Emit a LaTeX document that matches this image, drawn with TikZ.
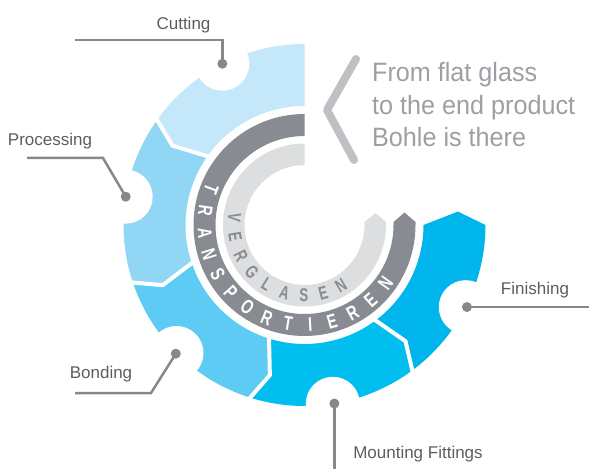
\documentclass[tikz,border=0pt]{standalone}
\usepackage{fontspec}
\setmainfont{Liberation Sans}
\newfontfamily\ringfont[FakeStretch=0.72]{Liberation Sans}
\newfontfamily\claimfont[FakeStretch=0.95]{Liberation Sans}
\definecolor{cCut}{HTML}{C4E7F9}
\definecolor{cProc}{HTML}{92D6F5}
\definecolor{cBond}{HTML}{5ECBF4}
\definecolor{cMount}{HTML}{00BFEF}
\definecolor{cFin}{HTML}{00B5EB}
\definecolor{cDark}{HTML}{888B91}
\definecolor{cLight}{HTML}{DCDEE0}
\definecolor{cChev}{HTML}{BEC0C3}
\definecolor{cTxt}{HTML}{9C9FA3}
\definecolor{cLbl}{HTML}{5A5D62}
\definecolor{cLine}{HTML}{85888D}
\begin{document}
\begin{tikzpicture}[x=1pt,y=1pt,
  gapline/.style={draw=white,line width=4pt},
  dotnode/.style={circle,fill=cLine,inner sep=0pt,minimum size=10pt},
  leaderline/.style={draw=cLine,line width=2.5pt},
  lbl/.style={font=\fontsize{17}{20}\selectfont,text=cLbl,inner sep=0pt,anchor=base},
  maintext/.style={font=\claimfont\fontsize{26.5}{32}\selectfont,text=cTxt,inner sep=0pt,anchor=base west},
  chevline/.style={draw=cChev,line width=8pt,line cap=round,line join=round},
  ringlet/.style={font=\ringfont\bfseries\fontsize{20}{20}\selectfont,text=white,inner sep=0pt},
  innerlet/.style={font=\ringfont\bfseries\fontsize{18.5}{18.5}\selectfont,text=cDark,inner sep=0pt}]
\useasboundingbox (0,0) rectangle (589,469);
\coordinate (C) at (304.5,244);
\begin{scope}[shift={(C)}]
  % gear segments
  \fill[cCut] (90:181pt) arc[start angle=90,end angle=144,radius=181pt] -- (149:154pt) -- (144:119pt) arc[start angle=144,end angle=90,radius=119pt] -- cycle;
  \foreach \a/\c in {144/cProc,198/cBond,252/cMount,306/cFin} {
    \pgfmathsetmacro\b{\a+54}
    \fill[\c] (\a:181pt) arc[start angle=\a,end angle=\b,radius=181pt] -- (\b+5:154pt) -- (\b:119pt) arc[start angle=\b,end angle=\a,radius=119pt] -- (\a+5:154pt) -- cycle;
  }
  \foreach \a in {144,198,252,306}
    \draw[gapline] (\a:185pt) -- (\a+5:154pt) -- (\a:115pt);
  \foreach \m in {117,171,225,279,333}
    \fill[white] (\m:181pt) circle[radius=27pt];
  % rings
  \fill[cDark] (90:111pt) arc[start angle=90,end angle=360,radius=111pt] -- (111,3) -- (100,12.5) -- (89,3) -- (89,0) arc[start angle=360,end angle=90,radius=89pt] -- cycle;
  \fill[cLight] (90:81.5pt) arc[start angle=90,end angle=360,radius=81.5pt] -- (81.5,3) -- (71,12) -- (60,3) -- (60,0) arc[start angle=360,end angle=90,radius=60pt] -- cycle;
  % ring letters
  \foreach \l [count=\i from 0] in {T,R,A,N,S,P,O,R,T,I,E,R,E,N} {
    \pgfmathsetmacro\ang{159+\i*12.7}
    \node[ringlet,rotate=\ang+90] (tr\i) at (\ang:100pt) {\l};
  }
  \foreach \l [count=\i from 0] in {V,E,R,G,L,A,S,E,N} {
    \pgfmathsetmacro\ang{174+\i*15.9}
    \node[innerlet,rotate=\ang+90] (vg\i) at (\ang:70.5pt) {\l};
  }
  % dots
  \node[dotnode] (dcut) at (117:181pt) {};
  \node[dotnode] (dproc) at (171:181pt) {};
  \node[dotnode] (dbond) at (225:182pt) {};
  \node[dotnode] (dmount) at (279.5:181pt) {};
  \node[dotnode] (dfin) at (333.2:182pt) {};
\end{scope}
% leaders
\coordinate (ccut) at (dcut |- 0,429);
\coordinate (ecut) at (75,429);
\coordinate (cproc) at (103,311);
\coordinate (eproc) at (27,311);
\coordinate (cbond) at (151,76);
\coordinate (ebond) at (75,76);
\coordinate (emount) at (dmount |- 0,0);
\coordinate (efin) at (dfin -| 589,0);
\draw[leaderline] (dcut.center) -- (ccut) -- (ecut);
\draw[leaderline] (dproc.center) -- (cproc) -- (eproc);
\draw[leaderline] (dbond.center) -- (cbond) -- (ebond);
\draw[leaderline] (dmount.center) -- (emount);
\draw[leaderline] (dfin.center) -- (efin);
% labels
\node[lbl] (tcut) at (183.5,439) {Cutting};
\node[lbl] (tproc) at (50,323) {Processing};
\node[lbl] (tbond) at (101,91) {Bonding};
\node[lbl] (tmount) at (418,11) {Mounting Fittings};
\node[lbl] (tfin) at (535,174) {Finishing};
% chevron and claim
\coordinate (cha) at (356,410);
\coordinate (chb) at (327,359);
\coordinate (chc) at (354,309);
\draw[chevline] (cha) -- (chb) -- (chc);
\node[maintext] (m1) at (372,387) {From flat glass};
\node[maintext] (m2) at (372,354) {to the end product};
\node[maintext] (m3) at (372,322) {Bohle is there};
\end{tikzpicture}
\end{document}
